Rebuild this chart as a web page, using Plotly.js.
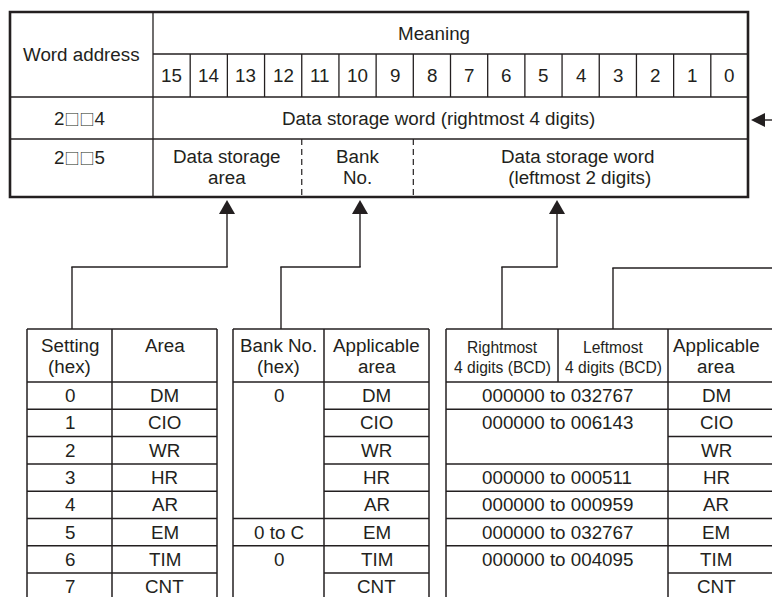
<!DOCTYPE html>
<html>
<head>
<meta charset="utf-8">
<script src="https://cdn.plot.ly/plotly-3.0.1.min.js"></script>
<style>html,body{margin:0;padding:0;background:#fff;}#chart{width:772px;height:597px;}</style>
</head>
<body>
<div id="chart"></div>
<script>
// ---------------- data ----------------
const wordHeader = 'Word address';
const meaningHeader = 'Meaning';
const bitLabels = ['15','14','13','12','11','10','9','8','7','6','5','4','3','2','1','0'];
const wordAddresses = ['2\u25A1\u25A14', '2\u25A1\u25A15'];
const word4Meaning = 'Data storage word (rightmost 4 digits)';
const word5Fields = ['Data storage\narea', 'Bank\nNo.', 'Data storage word\n (leftmost 2 digits)'];
const word5FieldBits = [[15, 12], [11, 9], [8, 0]];

const settingHeaders = ['Setting\n(hex)', 'Area'];
const settingHex = ['0','1','2','3','4','5','6','7'];
const settingArea = ['DM','CIO','WR','HR','AR','EM','TIM','CNT'];

const bankHeaders = ['Bank No.\n(hex)', 'Applicable\narea'];
const bankNo = ['0','','','','','0 to C','0',''];
const bankArea = ['DM','CIO','WR','HR','AR','EM','TIM','CNT'];

const bcdHeaders = ['Rightmost\n4 digits (BCD)', 'Leftmost\n4 digits (BCD)', 'Applicable\narea'];
const bcdRange = ['000000 to 032767','000000 to 006143','','000000 to 000511','000000 to 000959','000000 to 032767','000000 to 004095',''];
const bcdArea = ['DM','CIO','WR','HR','AR','EM','TIM','CNT'];

// ---------------- drawing helpers ----------------
const W = 772, H = 597;
const ink = '#231f20';
const FONT = 'Liberation Sans, Arial, Helvetica, sans-serif';
const FS = 18.8;
const shapes = [];
const annotations = [];

function line(x0, y0, x1, y1, w, dash) {
  shapes.push({type: 'line', xref: 'x', yref: 'y', x0: x0, y0: y0, x1: x1, y1: y1,
    line: {color: ink, width: w, dash: dash || 'solid'}, layer: 'above'});
}
function rect(x0, y0, x1, y1, w) {
  shapes.push({type: 'rect', xref: 'x', yref: 'y', x0: x0, y0: y0, x1: x1, y1: y1,
    line: {color: ink, width: w}, fillcolor: 'rgba(0,0,0,0)', layer: 'above'});
}
function tri(path) {
  shapes.push({type: 'path', xref: 'x', yref: 'y', path: path,
    line: {color: ink, width: 0}, fillcolor: ink, layer: 'above'});
}
function fmt(s) {
  return s.replace(/(\u25A1+)/g, '<span style="font-family:Noto Sans CJK JP;font-size:15px">$1</span>');
}
function text(x, y, t, size, lineGap) {
  const lines = t.split('\n');
  const gap = lineGap || 21;
  const y0 = y - gap * (lines.length - 1) / 2;
  lines.forEach(function (s, k) {
    annotations.push({x: x, y: y0 + k * gap, xref: 'x', yref: 'y', text: fmt(s),
      showarrow: false, xanchor: 'center', yanchor: 'middle',
      font: {family: FONT, size: size || FS, color: ink}});
  });
}
function textTop(x, yFirst, t, size, lineGap) {
  const lines = t.split('\n');
  const gap = lineGap || 21;
  lines.forEach(function (s, k) {
    annotations.push({x: x, y: yFirst + k * gap, xref: 'x', yref: 'y', text: s,
      showarrow: false, xanchor: 'center', yanchor: 'middle',
      font: {family: FONT, size: size || FS, color: ink}});
  });
}

// ---------------- top word table ----------------
const tL = 10, tR = 748, tT = 12, tB = 197, tC = 153;
const yMeaning = 54, yBits = 97, yW4 = 139;
const bw = (tR - tC) / bitLabels.length;
const bitEdge = function (bit) { return tC + (15 - bit) * bw; };

line(tC, tT, tC, tB, 1.3);
line(tC, yMeaning, tR, yMeaning, 1.3);
line(tL, yBits, tR, yBits, 1.3);
line(tL, yW4, tR, yW4, 1.3);
for (let i = 1; i < bitLabels.length; i++) line(tC + i * bw, yMeaning, tC + i * bw, yBits, 1.3);
for (let f = 1; f < word5FieldBits.length; f++) {
  const xs = bitEdge(word5FieldBits[f][0]);
  line(xs, yW4, xs, tB, 1.2, '6px,4px');
}
rect(tL, tT, tR, tB, 2.6);

text((tL + tC) / 2, (tT + yBits) / 2, wordHeader);
text(434, (tT + yMeaning) / 2 + 0.5, meaningHeader);
bitLabels.forEach(function (b, i) { text(tC + (i + 0.5) * bw, (yMeaning + yBits) / 2, b); });
text(79, (yBits + yW4) / 2, wordAddresses[0]);
text(438, (yBits + yW4) / 2, word4Meaning);
text(79, 157, wordAddresses[1]);
word5Fields.forEach(function (f, i) {
  const x0 = bitEdge(word5FieldBits[i][0]);
  const x1 = bitEdge(word5FieldBits[i][1]) + bw;
  const cx = i === 2 ? 577 : (x0 + x1) / 2;
  text(cx, 167, f, FS, 20.5);
});

// ---------------- arrows & connectors ----------------
const arrowTip = 200, arrowBase = 214, elbowY = 267, tblTop = 329;
[[227, 72], [360, 281], [557, 502]].forEach(function (a) {
  tri('M ' + a[0] + ' ' + arrowTip + ' L ' + (a[0] - 8) + ' ' + arrowBase + ' L ' + (a[0] + 8) + ' ' + arrowBase + ' Z');
  line(a[0], arrowBase - 1, a[0], elbowY, 1.4);
  line(a[0] + 0.7, elbowY, a[1] - 0.7, elbowY, 1.4);
  line(a[1], elbowY, a[1], tblTop, 1.4);
});
line(613, tblTop, 613, 268, 1.4);
line(612.3, 268, W + 5, 268, 1.4);
tri('M 751 120 L 765 113 L 765 127 Z');
line(764, 120, W + 5, 120, 1.4);

// ---------------- bottom tables ----------------
const hdrBot = 382, rowH = 27.3, nRows = settingHex.length;
const rowTop = function (i) { return hdrBot + i * rowH; };
const rowMid = function (i) { return hdrBot + (i + 0.5) * rowH; };
const bottomY = H + 10;
const BLW = 1.5;
const hdrLine1 = 345.5, hdrGap = 21;

(function () {
  const xs = [27, 112, 217];
  xs.forEach(function (x) { line(x, tblTop, x, bottomY, BLW); });
  line(xs[0], tblTop, xs[2], tblTop, BLW);
  for (let i = 0; i < nRows; i++) line(xs[0], rowTop(i), xs[2], rowTop(i), BLW);
  textTop((xs[0] + xs[1]) / 2, hdrLine1, settingHeaders[0], FS, hdrGap);
  textTop((xs[1] + xs[2]) / 2, hdrLine1, settingHeaders[1], FS, hdrGap);
  settingHex.forEach(function (v, i) { text((xs[0] + xs[1]) / 2, rowMid(i), v); });
  settingArea.forEach(function (v, i) { text((xs[1] + xs[2]) / 2, rowMid(i), v); });
})();

(function () {
  const xs = [233, 324, 429];
  xs.forEach(function (x) { line(x, tblTop, x, bottomY, BLW); });
  line(xs[0], tblTop, xs[2], tblTop, BLW);
  for (let i = 0; i < nRows; i++) {
    if (bankNo[i] !== '') line(xs[0], rowTop(i), xs[1], rowTop(i), BLW);
    line(xs[1], rowTop(i), xs[2], rowTop(i), BLW);
  }
  textTop((xs[0] + xs[1]) / 2, hdrLine1, bankHeaders[0], FS, hdrGap);
  textTop((xs[1] + xs[2]) / 2, hdrLine1, bankHeaders[1], FS, hdrGap);
  bankNo.forEach(function (v, i) { if (v) text((xs[0] + xs[1]) / 2, rowMid(i), v); });
  bankArea.forEach(function (v, i) { text((xs[1] + xs[2]) / 2, rowMid(i), v); });
})();

(function () {
  const xs = [446, 558, 668];
  line(xs[0], tblTop, xs[0], bottomY, BLW);
  line(xs[1], tblTop, xs[1], hdrBot, BLW);
  line(xs[2], tblTop, xs[2], bottomY, BLW);
  line(xs[0], tblTop, W + 5, tblTop, BLW);
  for (let i = 0; i < nRows; i++) {
    if (bcdRange[i] !== '') line(xs[0], rowTop(i), xs[2], rowTop(i), BLW);
    line(xs[2], rowTop(i), W + 5, rowTop(i), BLW);
  }
  textTop((xs[0] + xs[1]) / 2, 347, bcdHeaders[0], 15.6, 20);
  textTop((xs[1] + xs[2]) / 2, 347, bcdHeaders[1], 15.6, 20);
  textTop(716, hdrLine1, bcdHeaders[2], FS, hdrGap);
  bcdRange.forEach(function (v, i) { if (v) text((xs[0] + xs[2]) / 2, rowMid(i), v); });
  bcdArea.forEach(function (v, i) { text(716, rowMid(i), v); });
})();

// ---------------- plot ----------------
const layout = {
  width: W, height: H,
  margin: {l: 0, r: 0, t: 0, b: 0, pad: 0},
  paper_bgcolor: '#ffffff', plot_bgcolor: '#ffffff',
  xaxis: {range: [0, W], visible: false, fixedrange: true},
  yaxis: {range: [H, 0], visible: false, fixedrange: true},
  showlegend: false,
  shapes: shapes,
  annotations: annotations
};
Plotly.newPlot('chart', [{type: 'scatter', x: [], y: [], mode: 'markers', hoverinfo: 'skip'}], layout,
  {staticPlot: true, displayModeBar: false});
</script>
</body>
</html>
